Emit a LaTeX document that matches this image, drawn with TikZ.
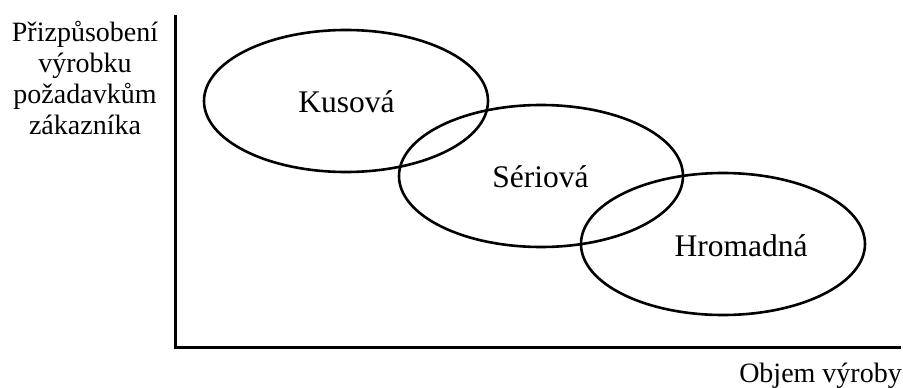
\documentclass[tikz,border=0pt]{standalone}
\usepackage{fontspec}
\setmainfont{Liberation Serif}
\usetikzlibrary{shapes.geometric}
\begin{document}
\begin{tikzpicture}[x=1pt,y=-1pt,
  zone/.style={draw, ellipse, line width=2.6pt, minimum width=284pt, minimum height=142pt, inner sep=0pt},
  zlabel/.style={font=\fontsize{31.5}{36}\selectfont, inner sep=0pt, anchor=base},
  axlabel/.style={font=\fontsize{28}{31}\selectfont, inner sep=0pt},
  axis/.style={line width=3pt}]
\useasboundingbox (0,0) rectangle (903,388);
\coordinate (ytop) at (175,15);
\coordinate (orig) at (175,347);
\coordinate (xend) at (901,347);
\draw[axis] (ytop) -- (orig) -- (xend);
\node[zone] (k) at (346,101) {};
\node[zone] (s) at (541,176) {};
\node[zone] (h) at (723,244) {};
\node[zlabel] (kl) at (346.5,112.3) {Kusová};
\node[zlabel] (sl) at (540.5,187.3) {Sériová};
\node[zlabel] (hl) at (741,256) {Hromadná};
\node[axlabel, align=center, anchor=base] (yl) at (85,134.5) {Přizpůsobení\\výrobku\\požadavkům\\zákazníka};
\node[axlabel, anchor=base east] (xl) at (902,382) {Objem výroby};
\end{tikzpicture}
\end{document}
